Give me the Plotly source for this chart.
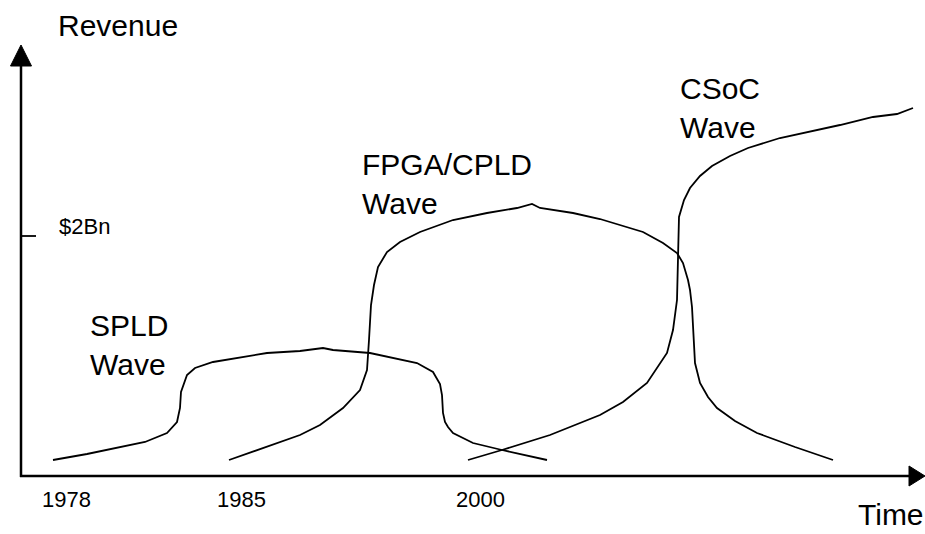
import plotly.graph_objects as go

# ---- data (time units from origin, revenue units from baseline) ----
spld_t = [32, 66, 124, 146, 156, 159, 160, 166, 174, 192, 246, 279, 302, 312, 349, 396, 412, 419, 421, 422, 424, 427, 432, 452, 481, 526]
spld_r = [16, 22, 34, 43, 54, 68, 84, 101, 108, 114, 123, 125, 128, 126, 123, 113, 104, 92, 81, 63, 54, 49, 43, 33, 26, 16]

fpga_t = [208, 279, 299, 322, 339, 346, 348, 349, 350, 353, 357, 366, 379, 399, 432, 466, 496, 511, 519, 552, 579, 622, 642, 656, 662, 667, 669, 671, 672, 674, 679, 687, 696, 714, 736, 774, 812]
fpga_r = [16, 41, 51, 68, 86, 106, 136, 163, 171, 191, 209, 224, 234, 244, 256, 263, 268, 272, 268, 263, 257, 244, 233, 223, 213, 196, 186, 169, 146, 113, 93, 79, 68, 55, 43, 29, 16]

csoc_t = [447, 481, 529, 579, 602, 626, 646, 652, 656, 657, 658, 663, 669, 679, 691, 709, 727, 759, 819, 852, 876, 892]
csoc_r = [16, 26, 41, 61, 74, 93, 123, 146, 176, 223, 259, 276, 288, 300, 310, 320, 328, 338, 351, 359, 362, 368]

year_labels = ["1978", "1985", "2000"]
year_pos = [45, 220, 459]
rev_tick_label = "$2Bn"
rev_tick_val = 240

wave_names = ["SPLD<br>Wave", "FPGA/CPLD<br>Wave", "CSoC<br>Wave"]

# ---- figure ----
FONT = "Liberation Sans, Arial, sans-serif"
fig = go.Figure()
for t, r in [(spld_t, spld_r), (fpga_t, fpga_r), (csoc_t, csoc_r)]:
    fig.add_trace(go.Scatter(x=t, y=r, mode="lines",
                             line=dict(color="black", width=1.8),
                             hoverinfo="skip", showlegend=False))

shapes = [
    # y axis
    dict(type="line", x0=0, x1=0, y0=-1, y1=415, line=dict(color="black", width=2.5)),
    # x axis
    dict(type="line", x0=-1, x1=892, y0=0, y1=0, line=dict(color="black", width=2.5)),
    # up arrowhead
    dict(type="path", path="M -10.5 410 L 10.5 410 L 0 431 Z",
         fillcolor="black", line=dict(color="black", width=1)),
    # right arrowhead
    dict(type="path", path="M 888 10 L 888 -10 L 904 0 Z",
         fillcolor="black", line=dict(color="black", width=1)),
    # $2Bn tick
    dict(type="line", x0=0, x1=15, y0=rev_tick_val, y1=rev_tick_val,
         line=dict(color="black", width=1.8)),
]

ann = []
def label(text, x, y, size, xanchor="left", align="left"):
    ann.append(dict(text=text, x=x, y=y, xref="x", yref="y", showarrow=False,
                    xanchor=xanchor, yanchor="bottom", align=align,
                    font=dict(family=FONT, size=size, color="black")))

label("Revenue", 35, 432, 30)
label("Time", 835, -57, 30)
label(rev_tick_label, 36, 235, 22)
for txt, p in zip(year_labels, year_pos):
    label(txt, p, -38, 22, xanchor="center", align="center")
label(wave_names[0], 67, 93, 30)
label(wave_names[1], 339, 254, 30)
label(wave_names[2], 657, 330, 30)

fig.update_layout(
    width=925, height=534,
    margin=dict(l=0, r=0, t=0, b=0),
    paper_bgcolor="white", plot_bgcolor="white",
    shapes=shapes, annotations=ann,
    xaxis=dict(range=[-21, 904], visible=False, fixedrange=True),
    yaxis=dict(range=[-58, 476], visible=False, fixedrange=True),
)
fig.write_html("out.html", config={"displayModeBar": False},
               post_script="document.body.style.margin='0';document.body.style.overflow='hidden';")
